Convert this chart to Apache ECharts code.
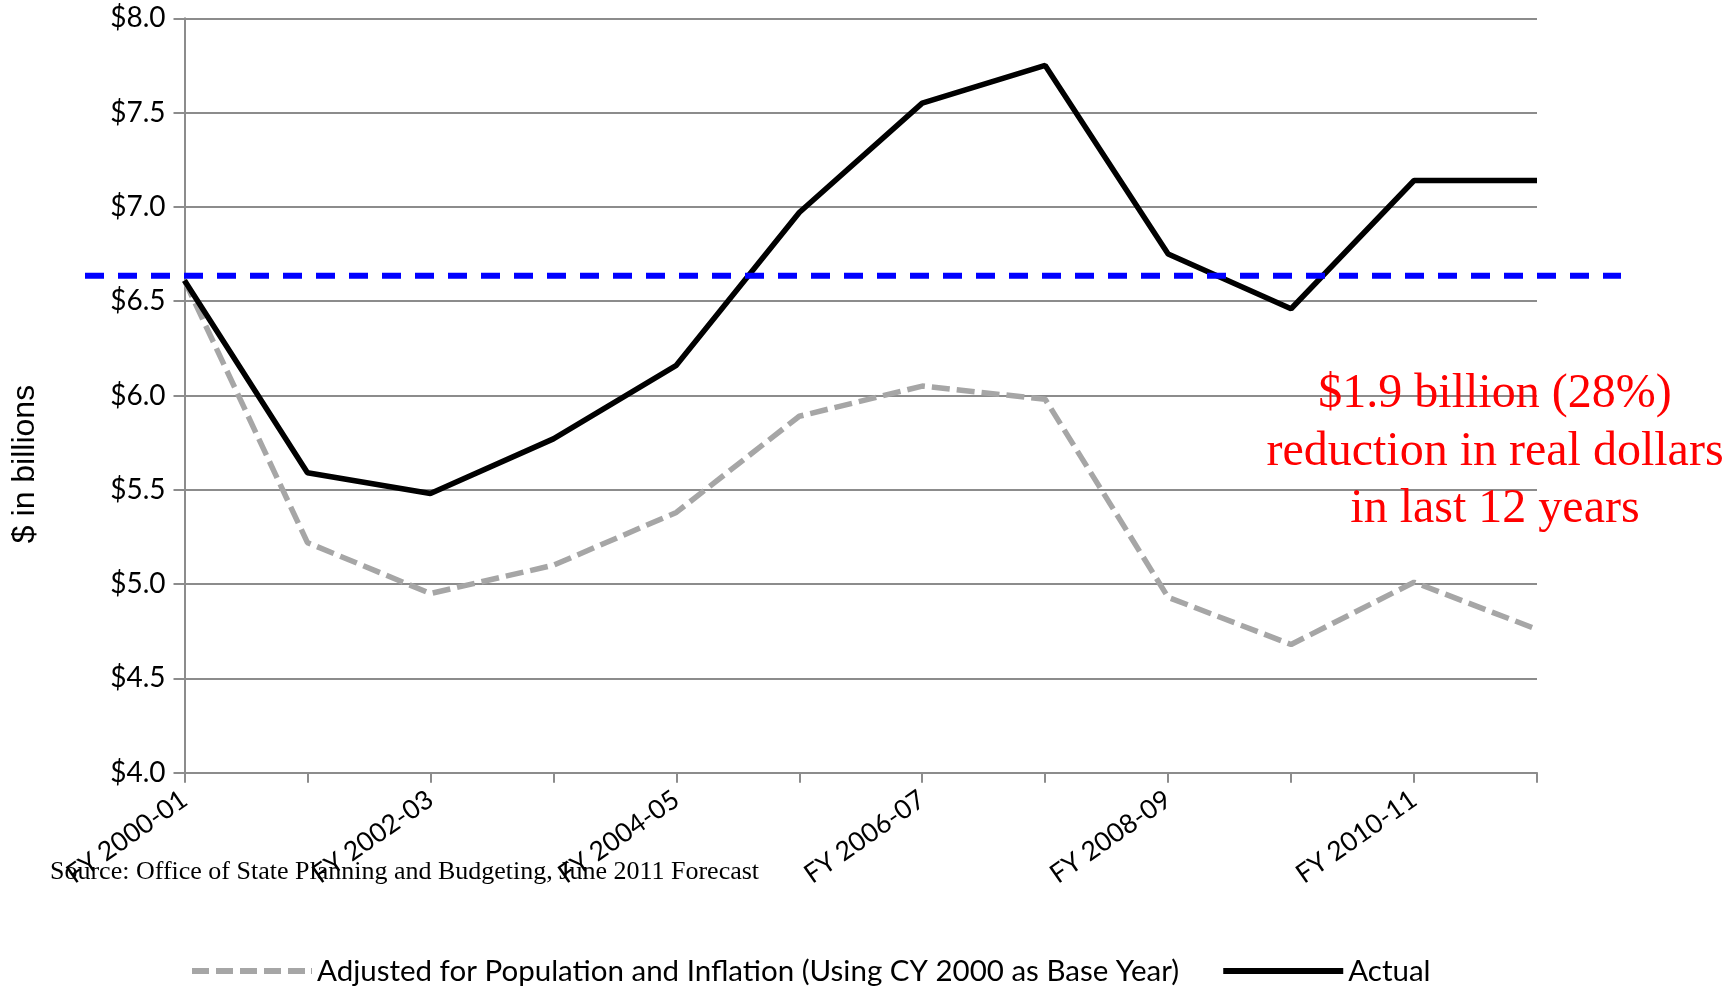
<!DOCTYPE html>
<html>
<head>
<meta charset="utf-8">
<script src="https://cdn.jsdelivr.net/npm/echarts@6/dist/echarts.min.js"></script>
<style>
html,body{margin:0;padding:0;background:#fff;}
#chart{width:1732px;height:987px;}
</style>
</head>
<body>
<div id="chart"></div>
<script>
const categories = ['FY 2000-01','FY 2001-02','FY 2002-03','FY 2003-04','FY 2004-05','FY 2005-06','FY 2006-07','FY 2007-08','FY 2008-09','FY 2009-10','FY 2010-11','FY 2011-12'];
const adjustedValues = [6.61, 5.22, 4.95, 5.10, 5.38, 5.89, 6.05, 5.98, 4.93, 4.68, 5.01, 4.76];
const actualValues = [6.61, 5.59, 5.48, 5.77, 6.16, 6.97, 7.55, 7.75, 6.75, 6.46, 7.14, 7.14];
const referenceLevel = 6.635;
const yTicks = [4.0, 8.0, 0.5]; // min, max, interval
const seriesNames = ['Adjusted for Population and Inflation (Using CY 2000 as Base Year)', 'Actual'];
const annotationLines = ['$1.9 billion (28%)', 'reduction in real dollars', 'in last 12 years'];
const sourceText = 'Source: Office of State Planning and Budgeting, June 2011 Forecast';
const yAxisTitle = '$ in billions';

const chart = echarts.init(document.getElementById('chart'));
const gridColor = '#8c8c8c';
const sansFont = 'Lato';
const dashedIcon = 'path://M0,0h17v6h-17z M24,0h17v6h-17z M48,0h17v6h-17z M72,0h17v6h-17z M96,0h17v6h-17z M119,0h1v6h-1z';

chart.setOption({
  animation: false,
  backgroundColor: '#ffffff',
  grid: [
    {left: 184.5, right: 195, top: 18.3, bottom: 214.3, containLabel: false},
    {left: 85, right: 111, top: 18.3, bottom: 214.3, containLabel: false}
  ],
  xAxis: [
    {
      type: 'category',
      gridIndex: 0,
      data: categories,
      boundaryGap: false,
      axisLine: {show: true, lineStyle: {color: gridColor, width: 2}},
      axisTick: {show: true, interval: 0, length: 10, lineStyle: {color: gridColor, width: 2}},
      axisLabel: {interval: 1, rotate: 35, margin: 24, color: '#000', fontFamily: sansFont, fontSize: 26.5},
      splitLine: {show: false}
    },
    {type: 'value', gridIndex: 1, min: 0, max: 1, show: false}
  ],
  yAxis: [
    {
      type: 'value',
      gridIndex: 0,
      min: yTicks[0],
      max: yTicks[1],
      interval: yTicks[2],
      axisLine: {show: true, lineStyle: {color: gridColor, width: 2}},
      axisTick: {show: true, length: 11, lineStyle: {color: gridColor, width: 2}},
      axisLabel: {margin: 19, color: '#000', fontFamily: sansFont, fontSize: 28,
        formatter: v => '$' + v.toFixed(1)},
      splitLine: {show: true, lineStyle: {color: gridColor, width: 2}}
    },
    {type: 'value', gridIndex: 1, min: yTicks[0], max: yTicks[1], show: false}
  ],
  legend: {
    data: [
      {name: seriesNames[0], icon: dashedIcon},
      {name: seriesNames[1], icon: 'rect'}
    ],
    left: 187,
    top: 951,
    itemWidth: 120,
    itemHeight: 6,
    itemGap: 44,
    textStyle: {color: '#000', fontFamily: sansFont, fontSize: 29.5, padding: [0, 0, 0, 0]}
  },
  series: [
    {
      name: seriesNames[0],
      type: 'line',
      xAxisIndex: 0, yAxisIndex: 0,
      data: adjustedValues,
      symbol: 'none',
      lineStyle: {color: '#a6a6a6', width: 5.5, type: [18, 7]},
      itemStyle: {color: '#a6a6a6'},
      z: 2
    },
    {
      name: seriesNames[1],
      type: 'line',
      xAxisIndex: 0, yAxisIndex: 0,
      data: actualValues,
      symbol: 'none',
      lineStyle: {color: '#000000', width: 5.5, type: 'solid'},
      itemStyle: {color: '#000000'},
      z: 3
    },
    {
      name: 'reference',
      type: 'line',
      xAxisIndex: 1, yAxisIndex: 1,
      data: [[0, referenceLevel], [1, referenceLevel]],
      symbol: 'none',
      lineStyle: {color: '#0000ff', width: 6, type: [19, 14]},
      z: 4
    }
  ],
  graphic: [
    {
      type: 'text',
      x: 25, y: 464,
      rotation: Math.PI / 2,
      style: {text: yAxisTitle, fill: '#000', font: '32px "Liberation Sans", Arial, sans-serif', align: 'center', verticalAlign: 'middle'}
    },
    {
      type: 'text',
      x: 50, y: 872,
      style: {text: sourceText, fill: '#000', font: '26px "Liberation Serif", "Times New Roman", serif', align: 'left', verticalAlign: 'middle'},
      z: 10
    },
    {
      type: 'text',
      x: 1495, y: 452,
      style: {text: annotationLines.join('\n'), fill: '#ff0000', font: '48px "Liberation Serif", "Times New Roman", serif', align: 'center', verticalAlign: 'middle', lineHeight: 57.5},
      z: 10
    }
  ]
});
</script>
</body>
</html>
